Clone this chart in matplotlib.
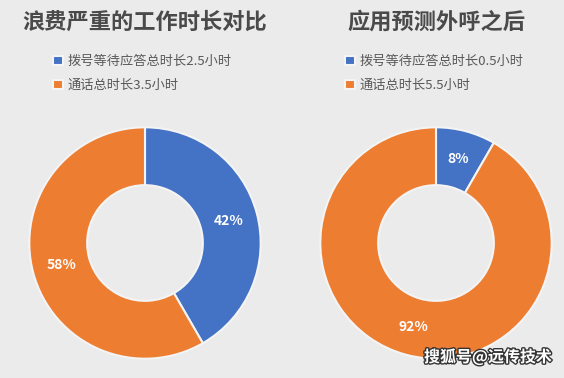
import matplotlib.pyplot as plt
import matplotlib.patheffects as pe

plt.rcParams['font.family'] = ['Noto Sans CJK SC', 'DejaVu Sans']

# data
titles = ['浪费严重的工作时长对比', '应用预测外呼之后']
labels_left = ['拨号等待应答总时长2.5小时', '通话总时长3.5小时']
labels_right = ['拨号等待应答总时长0.5小时', '通话总时长5.5小时']
hours_left = [2.5, 3.5]
hours_right = [0.5, 5.5]

blue = '#4472C4'
orange = '#ED7D31'
bg = '#EBEBEB'
grey = '#595959'

W, H = 564, 378
fig = plt.figure(figsize=(W / 100, H / 100), dpi=100, facecolor=bg)

def donut(cx, cy, r, vals, labels, title, leg_xy):
    ax = fig.add_axes([(cx - r) / W, (H - cy - r) / H, 2 * r / W, 2 * r / H])
    ax.set_facecolor(bg)
    wedges, _, pcts = ax.pie(vals, colors=[blue, orange], startangle=90, counterclock=False,
                             radius=1, autopct='%1.0f%%', pctdistance=0.75,
                             wedgeprops=dict(width=0.5, edgecolor='#f4f4f4', linewidth=1.5),
                             textprops=dict(color='white', fontsize=10, fontweight='bold'))
    ax.set_xlim(-1.02, 1.02)
    ax.set_ylim(-1.02, 1.02)
    ax.axis('off')
    fig.text(cx / W, 1 - 22 / H, title, ha='center', va='center', fontsize=16,
             fontweight='bold', color='#4a4a4a')
    fig.legend(wedges, labels, loc='upper left',
               bbox_to_anchor=(leg_xy[0] / W, 1 - leg_xy[1] / H), frameon=False,
               fontsize=9.5, labelcolor=grey, handlelength=0.75, handleheight=0.75,
               handletextpad=0.35, labelspacing=0.85, borderaxespad=0, borderpad=0)

donut(145, 243, 118, hours_left, labels_left, titles[0], (53, 55))
donut(436, 243, 118, hours_right, labels_right, titles[1], (345, 55))

fig.text(488 / W, 1 - 357 / H, '搜狐号@远传技术', ha='center', va='center', fontsize=11.5,
         fontweight='bold', color='white',
         path_effects=[pe.withStroke(linewidth=2, foreground='#333333')])

fig.savefig('out.png', dpi=100, facecolor=bg)
